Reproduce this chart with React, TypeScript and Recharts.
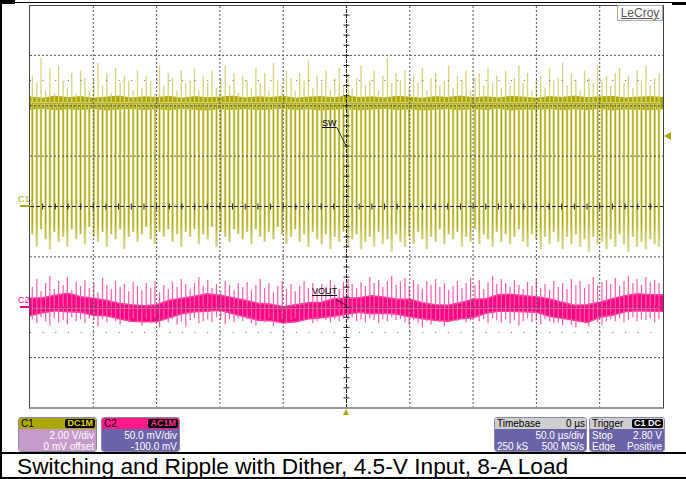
import { ComposedChart, Line, Area, XAxis, YAxis, ReferenceLine } from "recharts";

// C1 (SW node) switching edges, µs, ~4.4 px apart
const swEdgeTimes = [
  -248.2, -244.6, -241.3, -237.7, -234.3, -230.8, -227.4, -223.8, -220.5, -217.0, -213.5, -210.1,
  -206.6, -203.2, -199.6, -196.3, -192.7, -189.3, -185.8, -182.4, -178.8, -175.5, -172.0, -168.5,
  -165.1, -161.6, -158.2, -154.6, -151.3, -147.7, -144.3, -140.8, -137.4, -133.8, -130.5, -127.0,
  -123.5, -120.1, -116.6, -113.2, -109.6, -106.3, -102.7, -99.3, -95.8, -92.4, -88.8, -85.5,
  -82.0, -78.5, -75.1, -71.6, -68.2, -64.6, -61.3, -57.7, -54.3, -50.8, -47.4, -43.8,
  -40.5, -37.0, -33.5, -30.1, -26.6, -23.2, -19.6, -16.3, -12.7, -9.3, -5.8, -2.4,
  1.2, 4.5, 8.0, 11.5, 14.9, 18.4, 21.8, 25.4, 28.7, 32.3, 35.7, 39.2,
  42.6, 46.2, 49.5, 53.0, 56.5, 59.9, 63.4, 66.8, 70.4, 73.7, 77.3, 80.7,
  84.2, 87.6, 91.2, 94.5, 98.0, 101.5, 104.9, 108.4, 111.8, 115.4, 118.7, 122.3,
  125.7, 129.2, 132.6, 136.2, 139.5, 143.0, 146.5, 149.9, 153.4, 156.8, 160.4, 163.7,
  167.3, 170.7, 174.2, 177.6, 181.2, 184.5, 188.0, 191.5, 194.9, 198.4, 201.8, 205.4,
  208.7, 212.3, 215.7, 219.2, 222.6, 226.2, 229.5, 233.0, 236.5, 239.9, 243.4, 246.8,
];

// lowest point of each SW pulse (V)
const swLowLevels = [
  -1.1, -1.6, -0.9, -1.3, -1.7, -1.0, -1.4, -1.2, -1.6, -0.9, -1.3, -1.1,
  -1.5, -0.8, -1.2, -1.4, -1.0, -1.6, -1.1, -1.3, -0.9, -1.7, -1.2, -1.0,
  -1.4, -1.1, -0.8, -1.3, -1.5, -1.0, -1.2, -0.9, -1.4, -1.1, -1.6, -1.0,
  -1.2, -0.9, -1.5, -1.1, -1.3, -0.8, -1.6, -1.0, -1.2, -1.4, -0.9, -1.1,
  -1.3, -1.0, -1.5, -0.9, -1.2, -1.4, -1.0, -1.3, -0.8, -1.1, -1.5, -1.2,
  -0.9, -1.4, -1.1, -1.6, -1.0, -1.3, -1.5, -1.1, -1.7, -1.2, -1.4, -1.0,
  -1.6, -1.3, -1.1, -1.7, -1.4, -1.2, -1.6, -1.0, -1.5, -1.3, -1.8, -1.1,
  -1.4, -1.6, -1.2, -1.5, -1.0, -1.3, -1.7, -1.2, -1.4, -0.9, -1.5, -1.1,
  -1.3, -1.0, -1.6, -1.2, -1.4, -0.9, -1.5, -1.1, -1.3, -1.6, -1.0, -1.4,
  -1.1, -1.5, -1.2, -0.9, -1.4, -1.6, -1.1, -1.3, -1.7, -1.2, -1.5, -1.0,
  -1.4, -1.7, -1.2, -1.5, -1.1, -1.6, -1.3, -1.8, -1.2, -1.5, -1.4, -1.7,
  -1.3, -1.6, -1.1, -1.5, -1.8, -1.2, -1.6, -1.4, -1.7, -1.3, -1.5, -1.6,
];

// overshoot tip of each SW pulse (V)
const swOvershoots = [
  5.2, 4.9, 5.9, 4.6, 5.5, 4.5, 5.6, 5.0, 4.7, 5.3, 4.5, 5.4,
  5.1, 4.6, 5.0, 5.7, 4.8, 5.3, 4.5, 5.5, 4.9, 5.2, 5.0, 4.6,
  5.4, 4.7, 5.2, 5.0, 4.5, 5.6, 4.8, 5.3, 5.1, 4.6, 5.4, 4.9,
  5.0, 5.5, 4.6, 5.2, 4.9, 5.4, 4.7, 5.1, 5.6, 4.8, 5.3, 4.5,
  5.2, 5.0, 4.7, 5.5, 4.9, 5.3, 4.6, 5.7, 5.0, 4.8, 5.4, 5.1,
  4.6, 5.3, 5.0, 5.8, 4.7, 5.2, 4.9, 5.4, 4.6, 5.1, 5.5, 4.8,
  5.3, 4.7, 5.1, 5.6, 4.8, 5.0, 5.4, 4.6, 5.2, 5.9, 4.9, 5.3,
  5.0, 5.4, 4.7, 5.2, 4.9, 5.5, 4.6, 5.1, 5.3, 4.8, 5.0, 5.6,
  4.7, 5.2, 5.0, 5.4, 4.6, 5.1, 5.3, 4.8, 5.5, 4.9, 5.2, 4.7,
  5.4, 4.8, 5.1, 5.6, 4.9, 5.3, 4.6, 5.0, 5.2, 4.7, 5.5, 5.0,
  5.1, 5.7, 4.8, 5.3, 5.0, 4.6, 5.4, 5.1, 4.9, 5.6, 5.0, 5.2,
  4.8, 5.3, 5.5, 4.9, 5.2, 4.7, 5.4, 5.0, 5.6, 4.8, 5.1, 5.3,
];

// VOUT spike tips at each edge (mV, C2 ground = 0)
const voutSpikeHigh = [
  20, 28, 16, 24, 31, 18, 26, 22, 30, 17, 25, 21,
  27, 19, 24, 15, 29, 22, 18, 26, 20, 23, 16, 25,
  21, 17, 24, 19, 26, 15, 22, 18, 25, 20, 28, 23,
  18, 24, 30, 21, 27, 19, 23, 16, 26, 22, 17, 24,
  20, 25, 17, 22, 28, 19, 24, 15, 21, 26, 18, 23,
  16, 21, 26, 19, 24, 17, 23, 20, 27, 22, 18, 25,
  28, 23, 19, 25, 21, 30, 24, 27, 20, 26, 31, 22,
  25, 29, 21, 27, 23, 18, 26, 22, 28, 20, 24, 17,
  21, 26, 19, 24, 29, 22, 27, 18, 25, 31, 23, 28,
  24, 20, 27, 22, 18, 25, 21, 28, 19, 23, 17, 26,
  20, 24, 18, 28, 22, 26, 19, 23, 30, 21, 25, 27,
  23, 29, 21, 26, 31, 24, 28, 22, 30, 25, 27, 24,
];

const voutSpikeLow = [
  -12, -16, -10, -14, -18, -11, -15, -13, -17, -10, -14, -12,
  -16, -11, -13, -19, -12, -15, -10, -14, -17, -12, -15, -11,
  -14, -18, -12, -16, -11, -20, -13, -15, -12, -17, -14, -19,
  -13, -11, -16, -14, -12, -15, -10, -13, -17, -12, -15, -11,
  -14, -12, -16, -18, -13, -15, -11, -19, -14, -12, -16, -13,
  -11, -15, -13, -12, -16, -14, -10, -13, -15, -12, -14, -11,
  -13, -10, -14, -12, -15, -11, -13, -16, -12, -14, -10, -13,
  -12, -15, -18, -13, -16, -20, -14, -17, -12, -15, -19, -13,
  -11, -14, -12, -15, -13, -10, -14, -12, -16, -11, -13, -15,
  -12, -16, -13, -18, -14, -11, -15, -13, -17, -12, -14, -16,
  -15, -18, -13, -17, -20, -14, -16, -19, -13, -15, -18, -14,
  -12, -14, -11, -15, -13, -10, -14, -12, -13, -11, -15, -12,
];

// trace envelopes sampled every 10 µs
const bandTimes = [
  -250, -240, -230, -220, -210, -200, -190, -180, -170, -160, -150, -140, -130,
  -120, -110, -100, -90, -80, -70, -60, -50, -40, -30, -20, -10, 0,
  10, 20, 30, 40, 50, 60, 70, 80, 90, 100, 110, 120, 130,
  140, 150, 160, 170, 180, 190, 200, 210, 220, 230, 240, 250,
];
const swBandHi = [
  4.35, 4.3, 4.38, 4.32, 4.36, 4.3, 4.34, 4.38, 4.31, 4.35, 4.33, 4.37, 4.3,
  4.36, 4.32, 4.34, 4.38, 4.31, 4.35, 4.33, 4.37, 4.3, 4.34, 4.36, 4.32, 4.38,
  4.33, 4.35, 4.31, 4.37, 4.34, 4.3, 4.36, 4.33, 4.38, 4.32, 4.35, 4.31, 4.37,
  4.34, 4.3, 4.36, 4.33, 4.38, 4.32, 4.35, 4.37, 4.31, 4.34, 4.36, 4.33,
];
const swBandLo = [
  3.86, 3.9, 3.84, 3.88, 3.85, 3.9, 3.83, 3.87, 3.89, 3.85, 3.88, 3.84, 3.9,
  3.86, 3.83, 3.88, 3.85, 3.89, 3.84, 3.87, 3.9, 3.85, 3.88, 3.83, 3.86, 3.89,
  3.84, 3.87, 3.9, 3.85, 3.88, 3.83, 3.86, 3.89, 3.84, 3.88, 3.85, 3.9, 3.83,
  3.87, 3.86, 3.89, 3.84, 3.88, 3.85, 3.9, 3.83, 3.87, 3.86, 3.84, 3.88,
];
const voutBandHi = [
  9, 9.5, 12, 14, 10.5, 9, 7, 4, 2.5, 1.5, 2.5, 7, 9,
  11, 13.5, 12, 9.5, 7, 4, 3, 0.5, 2.5, 4.5, 5, 8.5, 9,
  9.5, 11.5, 10, 8, 8, 4.5, 2.5, 2, 4.5, 8, 8.5, 12.5, 13,
  11.5, 10.5, 8.5, 5, 2, 2.5, 5, 8.5, 11.5, 13.5, 12.5, 12.5,
];
const voutBandLo = [
  -8.5, -5.5, -3.5, -4.5, -5, -8, -8.5, -11.5, -14, -14.5, -14.5, -10.5, -6.5,
  -4.5, -4, -3, -6.5, -9.5, -13, -13.5, -15.5, -14.5, -11.5, -10.5, -9, -7,
  -5, -6.5, -6, -7, -9.5, -11.5, -13, -14, -11.5, -10.5, -6, -4, -4,
  -4.5, -5, -9, -11, -13, -15, -10, -8, -4.5, -3.5, -4, -4,
];

// screen grid: 50 µs/div, C1 2 V/div
const gridTimes = [-200, -150, -100, -50, 50, 100, 150, 200];
const gridVolts = [-6, -4, -2, 2, 4, 6];
const minorTimes = [
  -240, -230, -220, -210, -200, -190, -180, -170, -160, -150, -140, -130, -120, -110, -100, -90,
  -80, -70, -60, -50, -40, -30, -20, -10, 10, 20, 30, 40, 50, 60, 70, 80, 90, 100, 110, 120,
  130, 140, 150, 160, 170, 180, 190, 200, 210, 220, 230, 240,
];
const minorVolts = [
  -7.6, -7.2, -6.8, -6.4, -6.0, -5.6, -5.2, -4.8, -4.4, -4.0, -3.6, -3.2, -2.8, -2.4, -2.0, -1.6,
  -1.2, -0.8, -0.4, 0.4, 0.8, 1.2, 1.6, 2.0, 2.4, 2.8, 3.2, 3.6, 4.0, 4.4, 4.8, 5.2, 5.6, 6.0,
  6.4, 6.8, 7.2, 7.6,
];

const caption = "Switching and Ripple with Dither, 4.5-V Input, 8-A Load";

const SW_BASE = 4.1;
const VOUT_BASE = -1;

const swDown = swEdgeTimes.flatMap((t, i) => [
  { t, v: SW_BASE },
  { t, v: swLowLevels[i] },
  { t, v: SW_BASE },
]);
const swUp = swEdgeTimes.flatMap((t, i) => [
  { t, v: SW_BASE },
  { t, v: swOvershoots[i] },
  { t, v: SW_BASE },
]);
const swBand = bandTimes.map((t, i) => ({ t, r: [swBandLo[i], swBandHi[i]] }));
const voutSpikes = swEdgeTimes.flatMap((t, i) => [
  { t, m: VOUT_BASE },
  { t, m: voutSpikeHigh[i] },
  { t, m: voutSpikeLow[i] },
  { t, m: VOUT_BASE },
]);
const voutBand = bandTimes.map((t, i) => ({ t, r: [voutBandLo[i], voutBandHi[i]] }));
const xTicks = minorTimes.map((t) => ({ t, v: 0 }));
const yTicks = minorVolts.map((v) => ({ t: 0, v }));

const YEL = "#aca800";
const PINK = "#ff0583";
const FONT = "'Liberation Sans', Arial, sans-serif";

function ScopeBox(props: {
  left: number;
  width: number;
  title: string;
  titleBg: string;
  titleRight?: string;
  badge?: string;
  badgeColor?: string;
  bodyBg: string;
  rows: [string, string][];
}) {
  const { left, width, title, titleBg, titleRight, badge, badgeColor, bodyBg, rows } = props;
  return (
    <div
      style={{
        position: "absolute",
        left,
        top: 417,
        width,
        height: 35,
        boxSizing: "border-box",
        border: "1px solid #8a86a8",
        borderRadius: 3,
        overflow: "hidden",
        fontFamily: FONT,
        fontSize: 10,
        lineHeight: "11px",
      }}
    >
      <div
        style={{
          background: titleBg,
          height: 11,
          display: "flex",
          justifyContent: "space-between",
          alignItems: "center",
          padding: "0 1px 0 2px",
          color: "#000",
        }}
      >
        <span>{title}</span>
        {badge ? (
          <span
            style={{
              background: "#000",
              color: badgeColor,
              fontSize: 9,
              fontWeight: "bold",
              lineHeight: "9px",
              padding: "0 2px",
              borderRadius: 2,
            }}
          >
            {badge}
          </span>
        ) : (
          <span>{titleRight}</span>
        )}
      </div>
      <div style={{ background: bodyBg, height: 24, color: "#fff", padding: "1px 2px 0 2px" }}>
        {rows.map(([l, r], i) => (
          <div key={i} style={{ display: "flex", justifyContent: "space-between", height: 11 }}>
            <span>{l}</span>
            <span>{r}</span>
          </div>
        ))}
      </div>
    </div>
  );
}

export default function App() {
  return (
    <div
      style={{
        position: "absolute",
        left: 0,
        top: 0,
        width: 686,
        height: 479,
        background: "#fff",
        overflow: "hidden",
        fontFamily: FONT,
      }}
    >
      <ComposedChart width={686} height={452} margin={{ top: 5, right: 23, bottom: 44, left: 30 }}>
        <defs>
          <linearGradient id="swFade" x1="0" y1="0" x2="0" y2="1">
            <stop offset="0" stopColor={YEL} />
            <stop offset="0.8" stopColor={YEL} />
            <stop offset="0.92" stopColor="#cfcd6a" />
            <stop offset="1" stopColor="#dddb9c" />
          </linearGradient>
        </defs>
        <XAxis
          type="number"
          dataKey="t"
          domain={[-250, 250]}
          allowDataOverflow
          height={0}
          tick={false}
          axisLine={false}
          tickLine={false}
        />
        <YAxis yAxisId="c1" type="number" domain={[-8, 8]} allowDataOverflow width={0} tick={false} axisLine={false} tickLine={false} />
        <YAxis yAxisId="c2" type="number" domain={[-100, 300]} allowDataOverflow width={0} tick={false} axisLine={false} tickLine={false} />

        {/* C1: SW node */}
        <Line yAxisId="c1" data={swUp} dataKey="v" type="linear" stroke="#d6d47c" strokeWidth={1.3} dot={false} activeDot={false} isAnimationActive={false} />
        <Line yAxisId="c1" data={swDown} dataKey="v" type="linear" stroke="#dfdd9e" strokeWidth={2.6} dot={false} activeDot={false} isAnimationActive={false} />
        <Line yAxisId="c1" data={swDown} dataKey="v" type="linear" stroke="url(#swFade)" strokeWidth={1.2} dot={false} activeDot={false} isAnimationActive={false} />
        <Area yAxisId="c1" data={swBand} dataKey="r" type="linear" fill={YEL} fillOpacity={1} stroke={YEL} strokeWidth={1} dot={false} activeDot={false} isAnimationActive={false} />

        {/* C2: VOUT ripple */}
        <Line yAxisId="c2" data={voutSpikes} dataKey="m" type="linear" stroke="#ff5aab" strokeWidth={1.2} dot={false} activeDot={false} isAnimationActive={false} />
        <Area yAxisId="c2" data={voutBand} dataKey="r" type="linear" fill={PINK} fillOpacity={1} stroke="#ff3a9c" strokeWidth={1.5} dot={false} activeDot={false} isAnimationActive={false} />

        {/* graticule */}
        {gridTimes.map((t) => (
          <ReferenceLine key={`gx${t}`} yAxisId="c1" x={t} stroke="#555" strokeDasharray="2 2" />
        ))}
        {gridVolts.map((v) => (
          <ReferenceLine key={`gy${v}`} yAxisId="c1" y={v} stroke="#555" strokeDasharray="2 2" />
        ))}
        <ReferenceLine yAxisId="c1" y={5} stroke="#666" strokeDasharray="1 11.66" />
        <ReferenceLine yAxisId="c1" y={-5} stroke="#666" strokeDasharray="1 11.66" />
        <ReferenceLine yAxisId="c1" x={0} stroke="#222" strokeDasharray="4 1" />
        <ReferenceLine yAxisId="c1" y={0} stroke="#222" strokeDasharray="4 2" />
        <Line
          yAxisId="c1"
          data={xTicks}
          dataKey="v"
          stroke="none"
          isAnimationActive={false}
          activeDot={false}
          dot={(p: any) => (
            <line key={`xt${p.index}`} x1={p.cx} x2={p.cx} y1={p.cy - 3} y2={p.cy + 3} stroke="#222" strokeWidth={1} />
          )}
        />
        <Line
          yAxisId="c1"
          data={yTicks}
          dataKey="v"
          stroke="none"
          isAnimationActive={false}
          activeDot={false}
          dot={(p: any) => (
            <line key={`yt${p.index}`} x1={p.cx - 3} x2={p.cx + 3} y1={p.cy} y2={p.cy} stroke="#222" strokeWidth={1} />
          )}
        />

        {/* trace labels' leaders */}
        <ReferenceLine yAxisId="c1" segment={[{ x: -7.7, y: 3.14 }, { x: 0, y: 2.38 }]} stroke="#000" strokeWidth={0.8} />
        <ReferenceLine yAxisId="c2" segment={[{ x: -8.3, y: 7.7 }, { x: 0, y: 1.7 }]} stroke="#000" strokeWidth={0.8} />
      </ComposedChart>

      {/* screen frame */}
      <div
        style={{
          position: "absolute",
          left: 29,
          top: 5,
          width: 635,
          height: 404,
          boxSizing: "border-box",
          borderTop: "1px solid #444",
          borderLeft: "1px solid #444",
          borderRight: "1px solid #444",
          borderBottom: "2px solid #999",
          pointerEvents: "none",
        }}
      />

      {/* LeCroy logo */}
      <div
        style={{
          position: "absolute",
          left: 617,
          top: 5,
          width: 46,
          height: 16,
          boxSizing: "border-box",
          border: "1px solid #aaa",
          fontSize: 12,
          lineHeight: "14px",
          color: "#555",
          textAlign: "center",
          textDecoration: "underline",
        }}
      >
        LeCroy
      </div>

      {/* trace labels */}
      <div style={{ position: "absolute", left: 322, top: 118, fontSize: 9, textDecoration: "underline" }}>SW</div>
      <div style={{ position: "absolute", left: 312, top: 286, fontSize: 9, textDecoration: "underline" }}>VOUT</div>

      {/* channel ground markers */}
      <div style={{ position: "absolute", left: 18, top: 194, fontSize: 9, color: YEL }}>C1</div>
      <div style={{ position: "absolute", left: 20, top: 205, width: 10, height: 2, background: YEL }} />
      <div style={{ position: "absolute", left: 18, top: 295, fontSize: 9, color: PINK }}>C2</div>
      <div style={{ position: "absolute", left: 20, top: 306, width: 10, height: 2, background: PINK }} />

      {/* trigger level and trigger position markers */}
      <div
        style={{
          position: "absolute",
          left: 664,
          top: 132,
          width: 0,
          height: 0,
          borderTop: "4px solid transparent",
          borderBottom: "4px solid transparent",
          borderRight: `7px solid ${YEL}`,
        }}
      />
      <div
        style={{
          position: "absolute",
          left: 343,
          top: 409,
          width: 0,
          height: 0,
          borderLeft: "3.5px solid transparent",
          borderRight: "3.5px solid transparent",
          borderBottom: `6px solid ${YEL}`,
        }}
      />

      {/* info boxes */}
      <ScopeBox left={18} width={79} title="C1" titleBg={YEL} badge="DC1M" badgeColor="#e0dc00" bodyBg="#c799cb" rows={[["", "2.00 V/div"], ["", "0 mV offset"]]} />
      <ScopeBox left={101} width={79} title="C2" titleBg="#ff1a8c" badge="AC1M" badgeColor="#ff3399" bodyBg="#6a63a9" rows={[["", "50.0 mV/div"], ["", "-100.0 mV"]]} />
      <ScopeBox left={494} width={93} title="Timebase" titleBg="#cfcfcf" titleRight="0 µs" bodyBg="#6a63a9" rows={[["", "50.0 µs/div"], ["250 kS", "500 MS/s"]]} />
      <ScopeBox left={589} width={76} title="Trigger" titleBg="#cfcfcf" badge="C1 DC" badgeColor="#fff" bodyBg="#6a63a9" rows={[["Stop", "2.80 V"], ["Edge", "Positive"]]} />

      {/* page frame */}
      <div style={{ position: "absolute", left: 0, top: 0, width: 15, height: 4, background: "#000" }} />
      <div style={{ position: "absolute", left: 672, top: 2, width: 14, height: 3, background: "#000" }} />
      <div style={{ position: "absolute", left: 0, top: 2, width: 686, height: 1, background: "#000" }} />
      <div style={{ position: "absolute", left: 0, top: 0, width: 2, height: 479, background: "#000" }} />
      <div style={{ position: "absolute", left: 0, top: 452, width: 686, height: 2, background: "#000" }} />
      <div style={{ position: "absolute", left: 0, top: 477, width: 686, height: 2, background: "#000" }} />

      <div style={{ position: "absolute", left: 17, top: 454, fontSize: 22.7, lineHeight: "25px", color: "#000", whiteSpace: "nowrap" }}>
        {caption}
      </div>
    </div>
  );
}
